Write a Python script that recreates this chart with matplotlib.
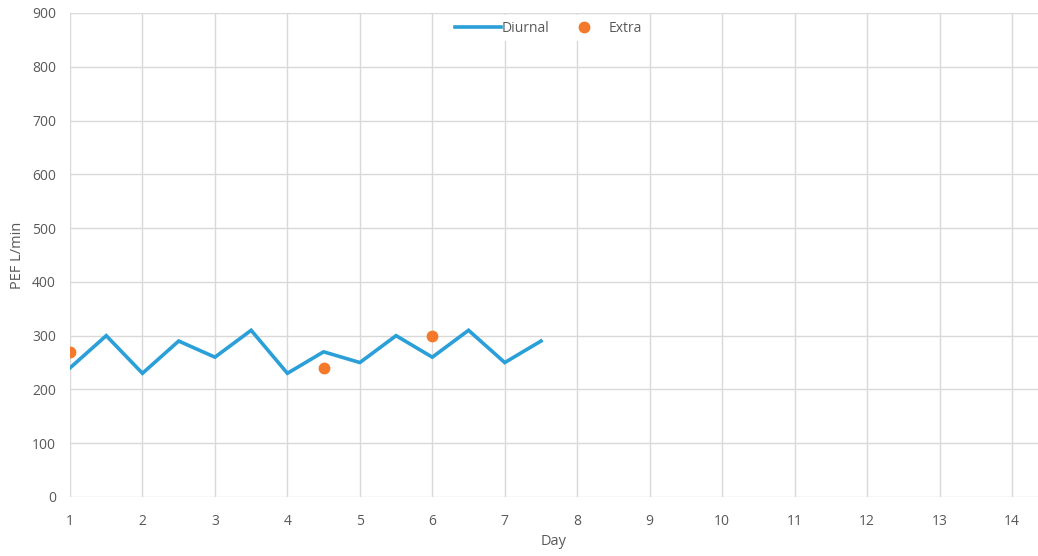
import matplotlib

matplotlib.use("Agg")
import matplotlib.pyplot as plt

# diurnal readings (morning / evening)
diurnal_day = [1, 1.5, 2, 2.5, 3, 3.5, 4, 4.5, 5, 5.5, 6, 6.5, 7, 7.5]
diurnal_pef = [240, 300, 230, 290, 260, 310, 230, 270, 250, 300, 260, 310, 250, 290]

# extra readings
extra_day = [1, 4.5, 6]
extra_pef = [270, 240, 300]

x_ticks = list(range(1, 15))
y_ticks = list(range(0, 901, 100))

TEXT = "#595959"
GRID = "#d9d9d9"

plt.rcParams["font.family"] = ["Open Sans", "DejaVu Sans"]

W, H = 1038, 556
fig = plt.figure(figsize=(W / 100, H / 100), dpi=100)
ax = fig.add_axes([70 / W, 1 - 497 / H, 968 / W, 484 / H])

ax.plot(diurnal_day, diurnal_pef, color="#2A9FD8", lw=2.6, label="Diurnal",
        solid_joinstyle="miter", zorder=3)
ax.plot(extra_day, extra_pef, ls="none", marker="o", ms=7.5, color="#F5792A",
        label="Extra", zorder=4)

ax.set_xlim(1, 1 + 968 / 72.46)
ax.set_ylim(0, 900)
ax.set_xticks(x_ticks)
ax.set_yticks(y_ticks)
ax.grid(True, color=GRID, lw=1)
ax.set_axisbelow(True)
for side in ax.spines.values():
    side.set_visible(False)
ax.tick_params(axis="x", length=0, labelsize=10, colors=TEXT, pad=12)
ax.tick_params(axis="y", length=0, labelsize=10, colors=TEXT, pad=10)
ax.set_xlabel("Day", fontsize=10.5, color=TEXT, labelpad=4)
ax.set_ylabel("PEF L/min", fontsize=10.5, color=TEXT, labelpad=5)

leg = ax.legend(loc="upper center", bbox_to_anchor=(0.494, 1.0),
                ncol=2, frameon=True, fontsize=10, handlelength=3.3,
                columnspacing=0.8, borderaxespad=0.15, handletextpad=0.1)
leg.get_frame().set_edgecolor("none")
leg.get_frame().set_facecolor("white")
leg.get_frame().set_alpha(1)
for t in leg.get_texts():
    t.set_color(TEXT)

fig.savefig("out.png", dpi=100)
